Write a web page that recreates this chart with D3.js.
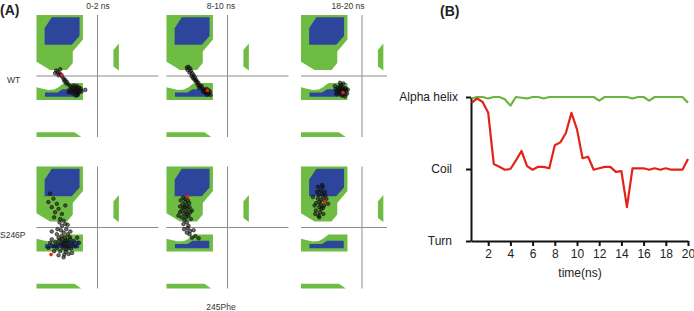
<!DOCTYPE html>
<html>
<head>
<meta charset="utf-8">
<script src="https://cdn.jsdelivr.net/npm/d3@7"></script>
<style>
  body { margin: 0; background: #fff; }
  text { font-family: "Liberation Sans", Arial, sans-serif; }
</style>
</head>
<body>
<div id="fig"></div>
<script>
//----- Panel A data: Ramachandran regions (phi, psi in degrees) -----
const betaGreen  = [[-180,180],[-43,180],[-43,108],[-73,72],[-73,38],[-90,18],[-140,18],[-180,42]];
const betaBlue   = [[-135,173],[-53,173],[-53,118],[-76,92],[-156,92],[-156,141]];
const alphaGreen = [[-180,-33],[-165,-37],[-145,-41],[-128,-40],[-115,-33],[-105,-25],[-98,-21],[-43,-21],[-43,-71],[-180,-71]];
const alphaBlue  = [[-155,-49],[-118,-49],[-103,-39],[-54,-39],[-54,-61],[-155,-61]];
const bottomGreen = [[-180,-166],[-68,-166],[-48,-180],[-180,-180]];
const leftHandGreen = [[63,96],[63,16],[47,28],[47,77]];

//Snapshot phi/psi of residue 245 for each window
const wt_0_2 = [[-62,-40],[-58,-44],[-66,-38],[-70,-45],[-55,-48],[-60,-35],[-74,-40],[-52,-42],[-64,-50],[-68,-33],
  [-78,-47],[-57,-52],[-49,-38],[-72,-52],[-61,-30],[-83,-40],[-66,-46],[-54,-34],[-76,-35],[-47,-46],
  [-70,-28],[-59,-56],[-80,-30],[-86,-25],[-90,-18],[-95,-12],[-100,-8],[-104,-2],[-108,4],[-112,8],
  [-118,12],[-122,16],[-98,-15],[-92,-22],[-115,2],[-125,8],[-110,20],[-36,-41],[-85,-48],[-64,-58]];
const wt_8_10 = [[-115,27],[-110,22],[-118,18],[-108,15],[-112,10],[-104,8],[-100,2],[-106,0],[-96,-4],[-98,-10],
  [-92,-12],[-90,-18],[-86,-20],[-88,-26],[-82,-28],[-80,-33],[-76,-30],[-74,-38],[-70,-40],[-66,-42],
  [-62,-45],[-58,-48],[-64,-50],[-55,-52],[-52,-46],[-60,-55],[-68,-48],[-50,-56],[-56,-42],[-72,-45],
  [-120,25],[-102,-6],[-94,-15],[-84,-35],[-62,-38]];
const wt_18_20 = [[-58,-42],[-62,-38],[-54,-46],[-66,-44],[-50,-40],[-60,-50],[-56,-34],[-70,-40],[-64,-30],[-52,-54],
  [-46,-44],[-68,-52],[-58,-58],[-74,-46],[-62,-26],[-48,-36],[-72,-34],[-55,-22],[-44,-52],[-78,-40],
  [-60,-45],[-57,-38],[-63,-48],[-53,-41],[-67,-36],[-42,-40],[-76,-54],[-50,-60],[-65,-20],[-80,-30]];
const s246p_0_2 = [[-100,-46],[-95,-40],[-108,-50],[-90,-55],[-112,-38],[-85,-45],[-102,-60],[-96,-30],[-118,-48],[-80,-35],
  [-106,-25],[-92,-65],[-120,-60],[-75,-50],[-88,-20],[-110,-70],[-98,-52],[-104,-36],[-86,-58],[-115,-30],
  [-125,-42],[-70,-40],[-94,-72],[-78,-62],[-100,-15],[-130,-55],[-82,-28],[-108,-8],[-92,-5],[-120,-20],
  [-135,-35],[-65,-55],[-98,-80],[-115,-82],[-85,-78],[-140,-45],[-60,-30],[-128,-70],[-105,5],[-95,10],
  [-112,15],[-88,8],[-75,-75],[-145,-60],[-55,-45],[-135,-12],[-100,-88],[-80,-12],[-118,-5],[-90,-38],
  [-140,100],[-130,85],[-120,70],[-135,60],[-115,55],[-125,45],[-105,40],[-110,25],[-145,75],[-100,20],[-128,30],[-95,65]];
const s246p_8_10 = [[-123,47],[-118,55],[-128,40],[-120,65],[-130,58],[-115,35],[-125,75],[-135,50],[-110,45],[-122,30],
  [-132,68],[-117,80],[-127,22],[-140,45],[-112,60],[-120,15],[-135,30],[-108,25],[-125,85],[-130,10],
  [-115,5],[-140,62],[-105,50],[-118,-2],[-128,-5],[-110,-10],[-100,-8],[-95,-25],[-112,-20],[-120,-15],
  [-145,35],[-138,80],[-113,72],[-126,60],[-119,40],[-105,-30],[-85,-32],[-131,88]];
const s246p_18_20 = [[-120,82],[-115,90],[-125,75],[-118,100],[-128,95],[-110,78],[-122,110],[-130,85],[-112,65],[-126,60],
  [-135,72],[-116,120],[-108,95],[-132,105],[-120,55],[-140,65],[-105,85],[-124,45],[-136,50],[-114,40],
  [-128,35],[-100,70],[-145,90],[-118,125],[-110,105],[-130,120],[-122,68],[-115,58],[-138,40],[-126,30]];
//Last frame of each window (red)
const lastFrame = [[-105,3],[-59,-43],[-56,-49],[-137,-80],[-118,91],[-110,77]];
const windowLabels = ["0-2 ns","8-10 ns","18-20 ns"];
const rowLabels = ["WT","S246P"];

//----- Panel B data -----
const timeNs = [0.5,1,1.5,2,2.5,3,3.5,4,4.5,5,5.5,6,6.5,7,7.5,8,8.5,9,9.5,10,
  10.5,11,11.5,12,12.5,13,13.5,14,14.5,15,15.5,16,16.5,17,17.5,18,18.5,19,19.5,20];
const wtSS = [2.98,3,3,2.98,3,3,2.97,2.88,3,2.99,2.98,3,3,2.98,3,3,3,3,3,3,
  3,3,3,2.95,3,3,3,3,3,2.98,3,3,2.95,3,3,3,3,3,3,2.92];
const s246pSS = [2.92,2.98,2.93,2.78,2.07,2.03,1.99,2.0,2.12,2.25,2.04,1.99,2.03,2.03,2.01,2.33,2.37,2.5,2.78,2.55,
  2.15,2.17,1.99,2.01,2.03,2.03,1.96,1.97,1.47,2.01,2.01,2.01,1.99,2.01,1.99,2.01,1.99,1.99,1.99,2.14];
const ssLevels = [1,2,3];
const ssLabels = ["Turn","Coil","Alpha helix"];
const timeTicks = [2,4,6,8,10,12,14,16,18,20];

const green = "#6fbc45", blue = "#2d459a";

const svg = d3.select("#fig")
    .append("svg")
    .attr("width", 694)
    .attr("height", 311);

//Clip for the right column (cut in the original figure)
svg.append("clipPath").attr("id", "clipCol3")
    .append("rect").attr("x", 290).attr("y", 0).attr("width", 97).attr("height", 311);

//===== Panel A =====
const colX = [97.5, 227.5, 362];
const rowY = [76, 227.5];
const half = 61;
const sets = [wt_0_2, wt_8_10, wt_18_20, s246p_0_2, s246p_8_10, s246p_18_20];
const line = d3.line();

sets.forEach((pts, i) => {
    const col = i % 3, row = Math.floor(i / 3);
    const x = d3.scaleLinear().domain([-180, 180]).range([colX[col] - half, colX[col] + half]);
    const y = d3.scaleLinear().domain([-180, 180]).range([rowY[row] + half, rowY[row] - half]);
    const g = svg.append("g");
    if (col == 2) g.attr("clip-path", "url(#clipCol3)");

    const poly = d => line(d.map(p => [x(p[0]), y(p[1])])) + "Z";
    [betaGreen, alphaGreen, bottomGreen, leftHandGreen].forEach(r =>
        g.append("path").attr("d", poly(r)).attr("fill", green));
    [betaBlue, alphaBlue].forEach(r =>
        g.append("path").attr("d", poly(r)).attr("fill", blue));

    //Crosshair
    g.append("line").attr("x1", x(-180)).attr("x2", x(180)).attr("y1", y(0)).attr("y2", y(0))
        .attr("stroke", "#8c8c8c").attr("stroke-width", 1);
    g.append("line").attr("x1", x(0)).attr("x2", x(0)).attr("y1", y(180)).attr("y2", y(-180))
        .attr("stroke", "#8c8c8c").attr("stroke-width", 1);

    g.selectAll(".snap")
        .data(pts)
        .join("circle")
        .attr("class", "snap")
        .attr("cx", d => x(d[0]))
        .attr("cy", d => y(d[1]))
        .attr("r", 1.8)
        .attr("fill", "#111")
        .attr("fill-opacity", 0.6)
        .attr("stroke", "#111")
        .attr("stroke-width", 0.6);

    g.append("circle")
        .attr("cx", x(lastFrame[i][0]))
        .attr("cy", y(lastFrame[i][1]))
        .attr("r", 1.8)
        .attr("fill", "#e2231a");
});

//Panel A labels
svg.append("text").attr("x", 0).attr("y", 15).attr("font-size", "14px").attr("font-weight", "bold")
    .attr("fill", "#222").text("(A)");
const titleX = [98, 221, 348];
windowLabels.forEach((t, i) => {
    svg.append("text").attr("x", titleX[i]).attr("y", 9).attr("text-anchor", "middle")
        .attr("font-size", "8.5px").attr("fill", "#333").text(t);
});
svg.append("text").attr("x", 7).attr("y", 83).attr("font-size", "8.5px").attr("fill", "#333").text(rowLabels[0]);
svg.append("text").attr("x", 0).attr("y", 238).attr("font-size", "8.5px").attr("fill", "#333").text(rowLabels[1]);
svg.append("text").attr("x", 221).attr("y", 310).attr("text-anchor", "middle")
    .attr("font-size", "8.5px").attr("fill", "#333").text("245Phe");

//===== Panel B =====
svg.append("text").attr("x", 440).attr("y", 16).attr("font-size", "14px").attr("font-weight", "bold")
    .attr("fill", "#222").text("(B)");

const bx = d3.scaleLinear().domain([0.45, 20]).range([471, 688]);
const by = d3.scaleLinear().domain([1, 3]).range([241, 97]);

const xAxis = svg.append("g")
    .attr("transform", "translate(0,241)")
    .call(d3.axisBottom(bx).tickValues(timeTicks).tickSize(5).tickSizeOuter(0).tickFormat(d3.format("d")));
const yAxis = svg.append("g")
    .attr("transform", "translate(471,0)")
    .call(d3.axisLeft(by).tickValues(ssLevels).tickSize(5).tickSizeOuter(0).tickFormat((d, i) => ssLabels[i]));
[xAxis, yAxis].forEach(a => {
    a.selectAll("path, line").attr("stroke", "#111").attr("stroke-width", 2);
    a.selectAll("text").attr("font-size", "12px").attr("fill", "#222")
        .style("font-family", "'Liberation Sans', Arial, sans-serif");
});
xAxis.selectAll("text").attr("dy", "0.95em").attr("y", 6);
yAxis.selectAll("text").attr("x", (d) => d == 3 ? -13 : -19);

svg.append("text").attr("x", 580).attr("y", 277).attr("text-anchor", "middle")
    .attr("font-size", "12px").attr("fill", "#222").text("time(ns)");

const ssLine = d3.line().x((d, i) => bx(timeNs[i])).y(d => by(d));
svg.append("path").datum(wtSS).attr("d", ssLine)
    .attr("fill", "none").attr("stroke", "#6db33f").attr("stroke-width", 2.2).attr("stroke-linejoin", "round");
svg.append("path").datum(s246pSS).attr("d", ssLine)
    .attr("fill", "none").attr("stroke", "#e2231a").attr("stroke-width", 2.2).attr("stroke-linejoin", "round");
</script>
</body>
</html>
